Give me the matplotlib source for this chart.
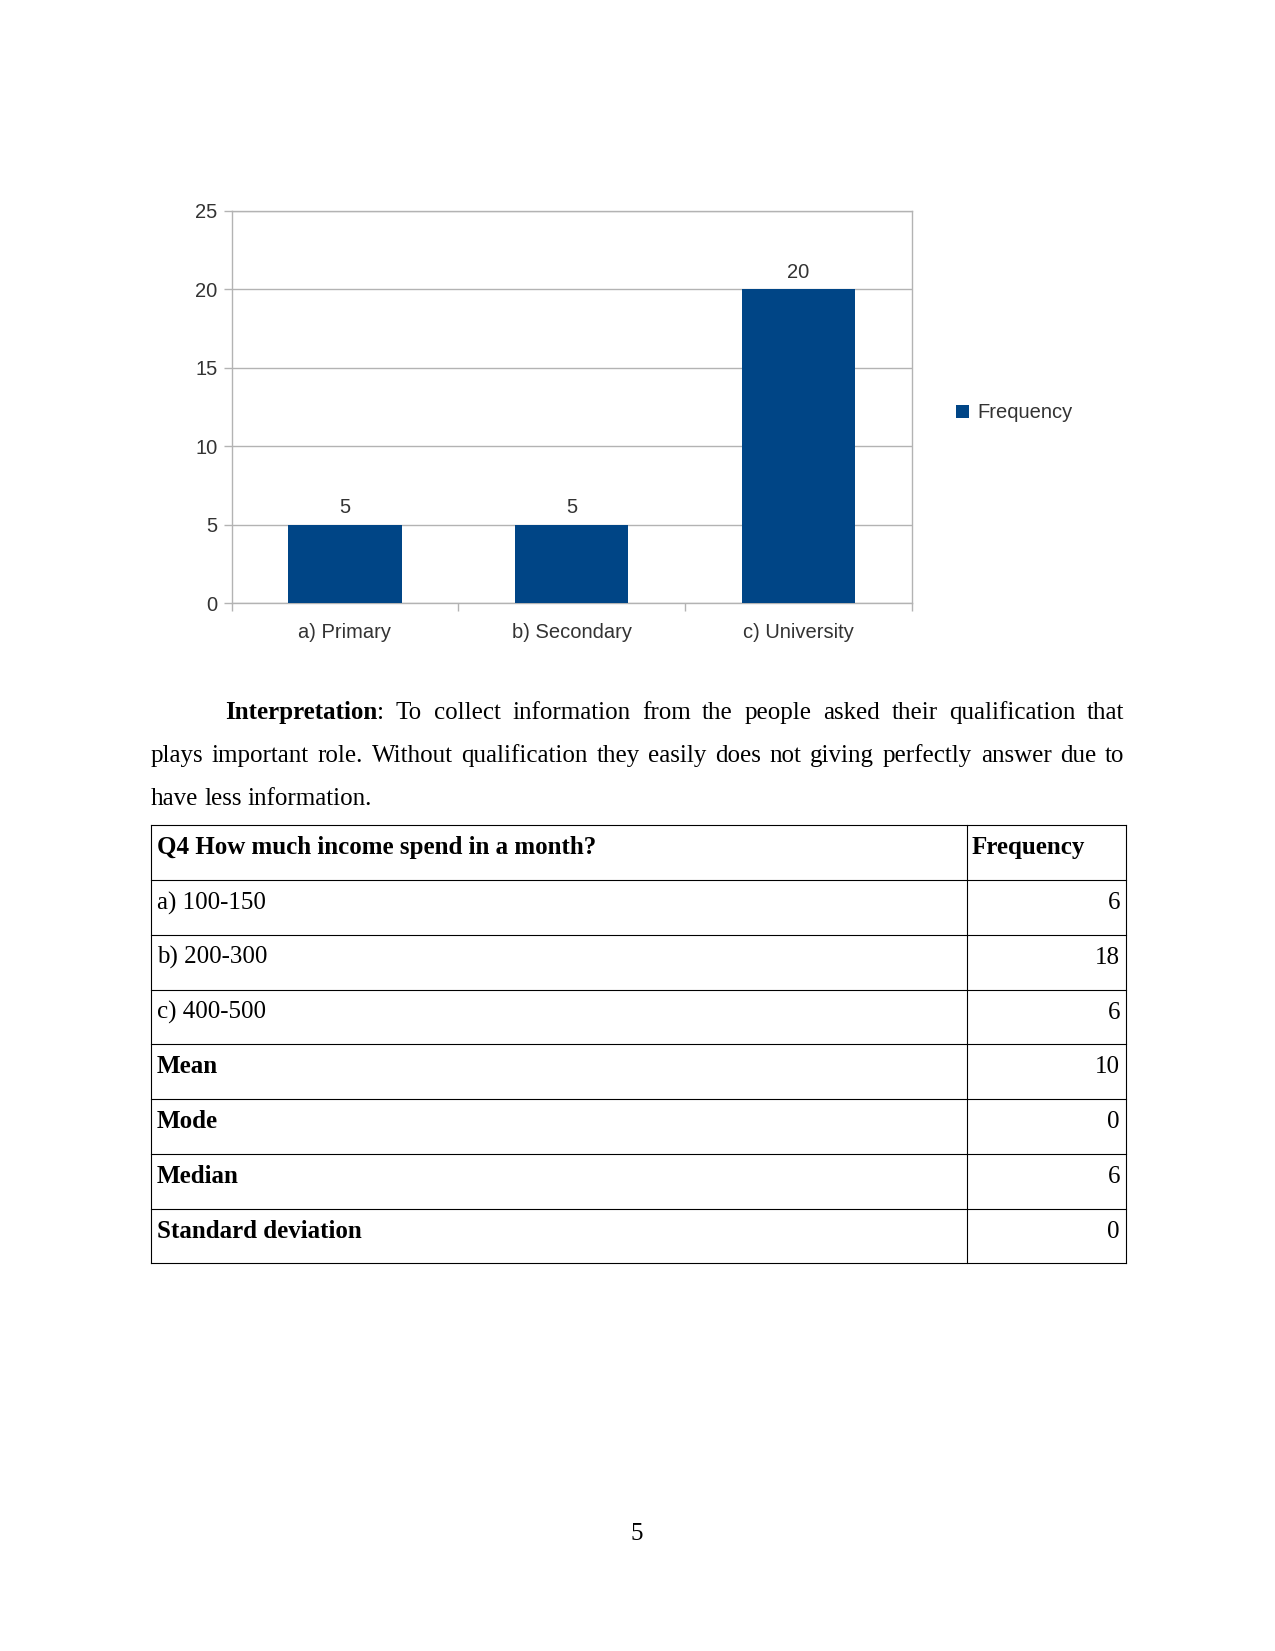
import matplotlib
matplotlib.use("Agg")
import matplotlib.pyplot as plt
from matplotlib.lines import Line2D

# datos del grafico
categorias = ['a) Primary', 'b) Secondary', 'c) University']
frecuencias = [5, 5, 20]
y_ticks = [0, 5, 10, 15, 20, 25]
serie = 'Frequency'

# parrafo de interpretacion
titulo_parrafo = 'Interpretation'
lineas_parrafo = [
    ': To collect information from the people asked their qualification that',
    'plays important role. Without qualification they easily does not giving perfectly answer due to',
    'have less information.',
]

# tabla Q4
encabezado = ['Q4 How much income spend in a month?', 'Frequency']
filas_tabla = ['a) 100-150', 'b) 200-300', 'c) 400-500', 'Mean', 'Mode', 'Median', 'Standard deviation']
valores_tabla = ['6', '18', '6', '10', '0', '6', '0']
filas_negrita = [False, False, False, True, True, True, True]

W, H = 1275, 1651
fig = plt.figure(figsize=(W / 100, H / 100), dpi=100)
fig.patch.set_facecolor('white')

def fx(px):
    return px / W

def fy(py):
    return 1 - py / H

azul = '#004586'
gris = '#b3b3b3'
texto_graf = '#333333'
sans = 'Liberation Sans'
serif = 'Liberation Serif'
tam = 14.5

# --- grafico de barras ---
izq, der, arriba, abajo = 231.6, 911.7, 210.6, 603.3
ax = fig.add_axes([fx(izq), fy(abajo), (der - izq) / W, (abajo - arriba) / H])
x = list(range(len(categorias)))
barras = ax.bar(x, frecuencias, width=0.5, color=azul, zorder=3, label=serie)
ax.set_xlim(-0.5, len(categorias) - 0.5)
ax.set_ylim(0, 25)
ax.set_yticks(y_ticks)
ax.set_yticklabels([str(v) for v in y_ticks], fontsize=tam, family=sans, color=texto_graf)
ax.yaxis.grid(True, color=gris, linewidth=1, zorder=0)
ax.set_xticks([i - 0.5 for i in range(len(categorias) + 1)])
ax.set_xticklabels([])
ax.set_xticks(x, minor=True)
ax.set_xticklabels(categorias, minor=True, fontsize=tam, family=sans, color=texto_graf)
ax.tick_params(axis='x', which='minor', length=0, pad=14)
ax.tick_params(axis='both', which='major', length=6, color=gris, width=1)
ax.tick_params(axis='y', pad=4)
for s in ax.spines.values():
    s.set_color(gris)
    s.set_linewidth(1)

for b, v in zip(barras, frecuencias):
    ax.annotate(str(v), (b.get_x() + b.get_width() / 2, v), xytext=(0, 5.5),
                textcoords='offset points', ha='center', va='bottom',
                fontsize=tam, family=sans, color=texto_graf)

fig.legend(handles=[barras], labels=[serie], loc='center left',
           bbox_to_anchor=(fx(946), fy(413)), bbox_transform=fig.transFigure,
           frameon=False, prop={'family': sans, 'size': tam},
           handlelength=0.65, handleheight=0.65, handletextpad=0.4, borderpad=0,
           labelcolor=texto_graf)

# --- parrafo justificado ---
r = fig.canvas.get_renderer()

def ancho(txt, peso='normal'):
    t = fig.text(0, 0, txt, fontsize=18, family=serif, weight=peso)
    w = t.get_window_extent(renderer=r).width
    t.remove()
    return w

margen_izq, margen_der = 150.5, 1124.5
bases = [719, 762, 805]
for n, linea in enumerate(lineas_parrafo):
    palabras = linea.split()
    inicio = margen_izq
    piezas = []
    if n == 0:
        # primera palabra en negrita con los dos puntos pegados
        inicio = 225
        w_tit = ancho(titulo_parrafo, 'bold')
        piezas.append([(titulo_parrafo, 'bold', w_tit), (palabras[0], 'normal', ancho(palabras[0]))])
        palabras = palabras[1:]
    for p in palabras:
        piezas.append([(p, 'normal', ancho(p))])
    anchos = [sum(q[2] for q in pz) for pz in piezas]
    if n < len(lineas_parrafo) - 1:
        hueco = (margen_der - inicio - sum(anchos)) / (len(piezas) - 1)
    else:
        hueco = ancho('a b') - ancho('ab')
    xp = inicio
    for pz, w in zip(piezas, anchos):
        xx = xp
        for txt, peso, wq in pz:
            fig.text(fx(xx), fy(bases[n]), txt, fontsize=18, family=serif, weight=peso,
                     va='baseline', ha='left', color='black')
            xx += wq
        xp += w + hueco

# --- tabla ---
t_izq, t_der, t_div = 150.5, 1125.5, 966.5
t_top, alto_fila = 825.4, 54.75
n_filas = len(filas_tabla) + 1
for i in range(n_filas + 1):
    yy = fy(t_top + i * alto_fila)
    fig.add_artist(Line2D([fx(t_izq), fx(t_der)], [yy, yy], color='black', lw=0.8))
for xx in (t_izq, t_div, t_der):
    fig.add_artist(Line2D([fx(xx), fx(xx)], [fy(t_top), fy(t_top + n_filas * alto_fila)],
                          color='black', lw=0.8))

fig.text(fx(157), fy(t_top + 29), encabezado[0], fontsize=18, family=serif,
         weight='bold', va='baseline')
fig.text(fx(972), fy(t_top + 29), encabezado[1], fontsize=18, family=serif,
         weight='bold', va='baseline')
for i, (etq, val, neg) in enumerate(zip(filas_tabla, valores_tabla, filas_negrita)):
    base = t_top + (i + 1) * alto_fila + 29
    fig.text(fx(157), fy(base), etq, fontsize=18, family=serif,
             weight='bold' if neg else 'normal', va='baseline')
    fig.text(fx(1120), fy(base), val, fontsize=18, family=serif, va='baseline', ha='right')

# numero de pagina
fig.text(fx(637), fy(1540), '5', fontsize=18, family=serif, va='baseline', ha='center')

fig.savefig('out.png', dpi=100)
